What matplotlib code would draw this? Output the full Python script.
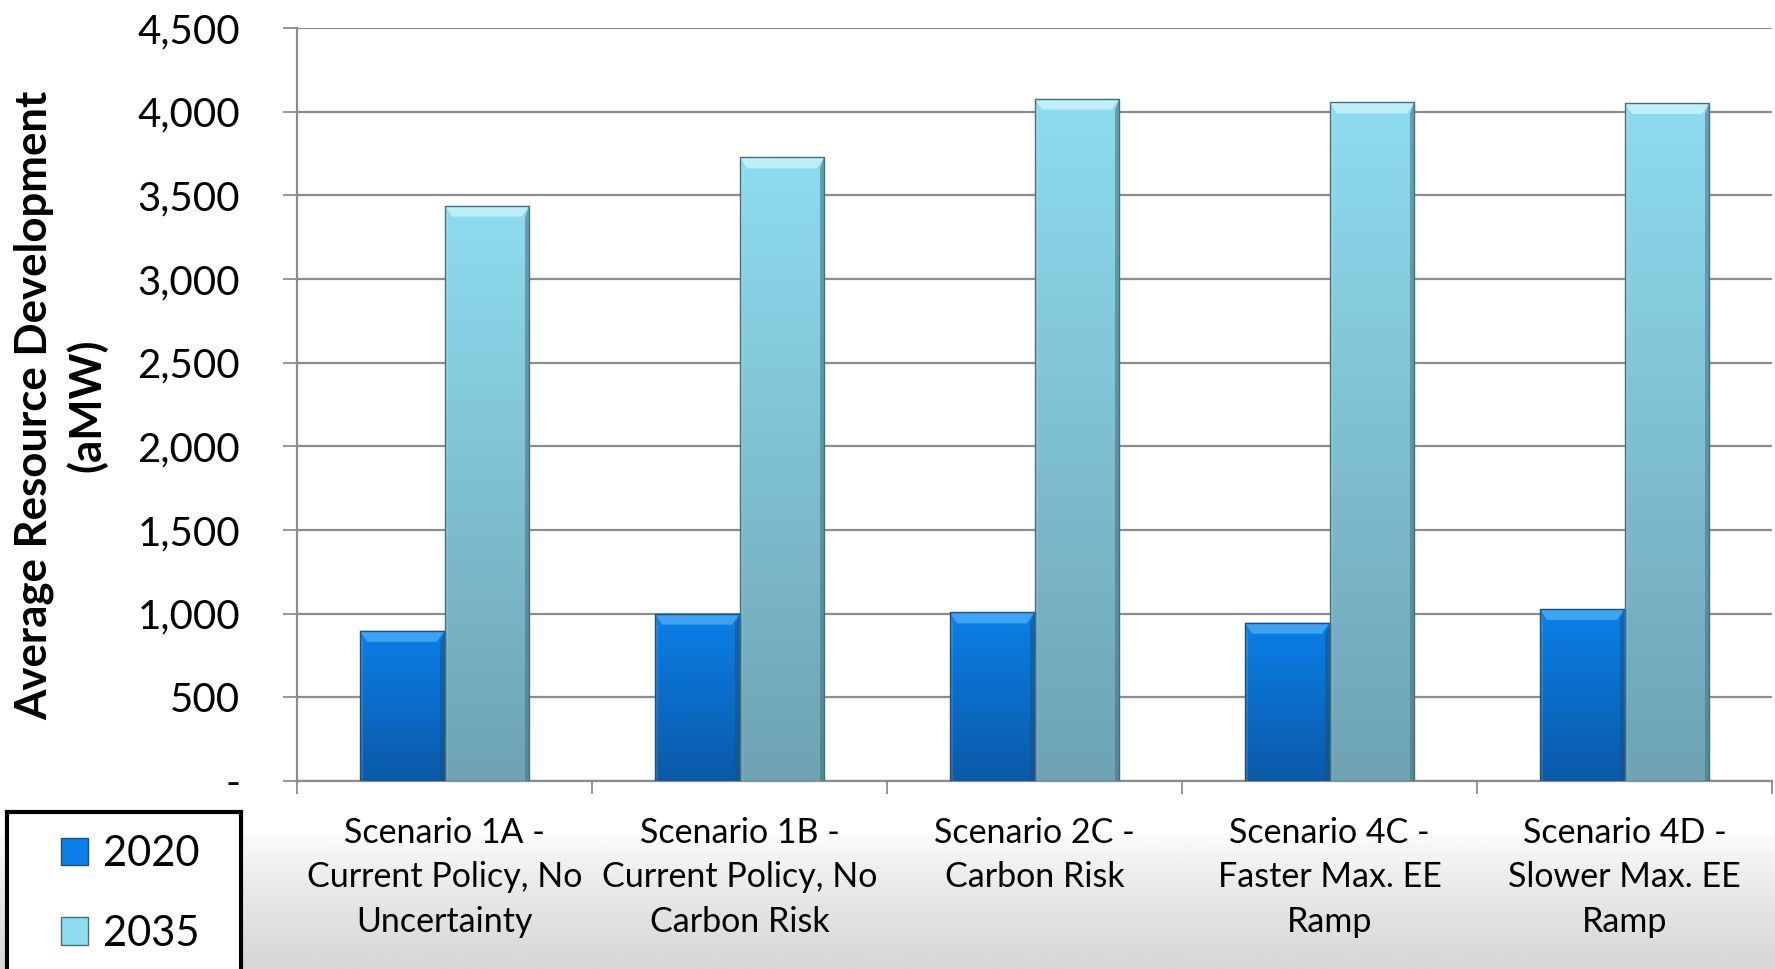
import numpy as np
import matplotlib
matplotlib.use("Agg")
import matplotlib.pyplot as plt
from matplotlib.patches import Polygon, Rectangle, Patch
from matplotlib.colors import LinearSegmentedColormap

# --- data -------------------------------------------------------------
scenarios = [
    "Scenario 1A -\nCurrent Policy, No\nUncertainty",
    "Scenario 1B -\nCurrent Policy, No\nCarbon Risk",
    "Scenario 2C -\nCarbon Risk",
    "Scenario 4C -\nFaster Max. EE\nRamp",
    "Scenario 4D -\nSlower Max. EE\nRamp",
]
years = ["2020", "2035"]
amw_2020 = [898, 1000, 1008, 946, 1028]
amw_2035 = [3439, 3727, 4078, 4055, 4052]
y_ticks = [0, 500, 1000, 1500, 2000, 2500, 3000, 3500, 4000, 4500]

# colours: (top, bottom, bevel, edge)
c2020 = ("#0b80e8", "#0a5aa8", "#45a8f5", "#1d4f7c")
c2035 = ("#8edcf0", "#6ea3b2", "#c4f2fb", "#456f7c")
grid_c = "#8c8c8c"

plt.rcParams['font.family'] = ['Lato', 'DejaVu Sans']

W, H = 1775, 969
fig = plt.figure(figsize=(W / 100, H / 100), dpi=100)

# slide background: white, fading to light grey at the bottom
bg = fig.add_axes([0, 0, 1, 1], zorder=-10)
rows = np.linspace(0, 1, 500)
t = np.clip((rows - 0.86) / 0.14, 0, 1)
shade_col = (1 - 0.16 * t ** 0.7).reshape(-1, 1)
bg.imshow(shade_col, cmap="gray", vmin=0, vmax=1, aspect="auto",
          extent=(0, 1, 0, 1), origin="upper")
bg.set_axis_off()

ax = fig.add_axes([297 / W, 1 - 781 / H, (1772 - 297) / W, (781 - 28) / H])
ax.patch.set_alpha(0)


def bevel_bar(ax, bar, colors):
    top_c, bot_c, bev_c, edge_c = colors
    x0, y0 = bar.get_x(), bar.get_y()
    bw, bh = bar.get_width(), bar.get_height()
    x1, top = x0 + bw, y0 + bh
    cmap = LinearSegmentedColormap.from_list("bar", [bot_c, top_c])
    img = ax.imshow(np.linspace(0, 1, 256).reshape(-1, 1), cmap=cmap,
                    origin="lower", extent=(x0, x1, y0, top),
                    aspect="auto", zorder=3.1, interpolation="bilinear")
    img.set_clip_path(bar)
    dx, dy = 0.026, 66
    # lit top face
    ax.add_patch(Polygon([(x0, top), (x1, top), (x1 - dx, top - dy),
                          (x0 + dx, top - dy)], closed=True,
                         facecolor=bev_c, lw=0, alpha=0.9, zorder=3.2))
    # shaded right side
    ax.add_patch(Polygon([(x1, top), (x1, y0), (x1 - dx * 0.6, y0),
                          (x1 - dx * 0.6, top - dy)], closed=True,
                         facecolor=edge_c, lw=0, alpha=0.55, zorder=3.2))
    # lighter left side
    ax.add_patch(Polygon([(x0, top), (x0, y0), (x0 + dx * 0.4, y0),
                          (x0 + dx * 0.4, top - dy)], closed=True,
                         facecolor="white", lw=0, alpha=0.12, zorder=3.2))
    ax.add_patch(Rectangle((x0, y0), bw, bh, fill=False, edgecolor=edge_c,
                           lw=1.0, zorder=3.3))


x = np.arange(len(scenarios))
w = 0.288
bars20 = ax.bar(x - w / 2, amw_2020, w, color=c2020[0], zorder=3)
bars35 = ax.bar(x + w / 2, amw_2035, w, color=c2035[0], zorder=3)
for b in bars20:
    bevel_bar(ax, b, c2020)
for b in bars35:
    bevel_bar(ax, b, c2035)

ax.set_xlim(-0.5, len(scenarios) - 0.5)
ax.set_ylim(0, 4500)

# axes styling
for s in ("top", "right"):
    ax.spines[s].set_visible(False)
for s in ("left", "bottom"):
    ax.spines[s].set_color(grid_c)
    ax.spines[s].set_linewidth(1.6)
ax.yaxis.grid(True, color=grid_c, lw=1.6)
ax.set_axisbelow(True)

ax.set_yticks(y_ticks)
ax.set_yticklabels(["-" if v == 0 else f"{v:,}" for v in y_ticks])
ax.tick_params(axis="y", length=10, width=1.3, color=grid_c, pad=31,
               labelsize=29)

ax.set_xticks(x)
ax.set_xticklabels(scenarios, fontsize=24.5, linespacing=1.47)
ax.set_xticks(np.arange(len(scenarios) + 1) - 0.5, minor=True)
ax.tick_params(axis="x", which="major", length=0, pad=26)
ax.tick_params(axis="x", which="minor", length=9, width=1.3, color=grid_c)

fig.text(61 / W, 1 - 405 / H, "Average Resource Development\n(aMW)",
         rotation=90, ha="center", va="center", fontsize=31.5,
         fontweight="bold", linespacing=1.33, multialignment="center")

# legend in a black box that runs off the bottom edge
fig.add_artist(Rectangle((7 / W, -0.05), 234 / W, 0.05 + 1 - 812 / H,
                         transform=fig.transFigure, facecolor="white",
                         edgecolor="black", lw=3, zorder=5))
handles = [Patch(facecolor=c2020[0], edgecolor=c2020[3]),
           Patch(facecolor=c2035[0], edgecolor=c2035[3])]
leg = fig.legend(handles, years, loc="center",
                 bbox_to_anchor=(130 / W, 1 - 894 / H), frameon=False,
                 fontsize=30, handlelength=0.65, handleheight=0.65,
                 handletextpad=0.35, labelspacing=1.0)
leg.set_zorder(6)

fig.savefig("out.png", dpi=100)
